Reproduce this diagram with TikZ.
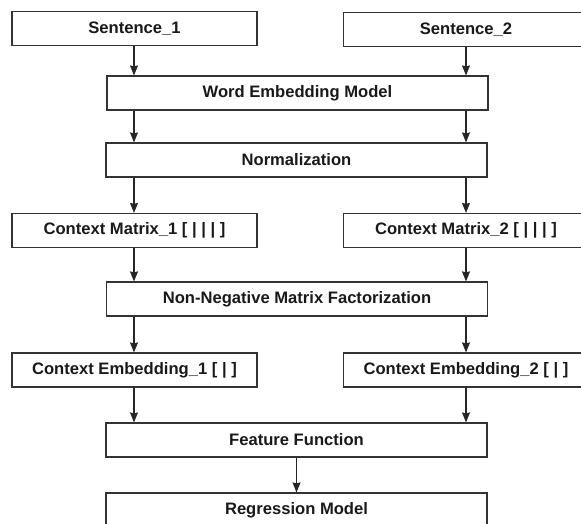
\documentclass[tikz,border=0pt]{standalone}
\usepackage{fontspec}
\setmainfont{Liberation Sans}
\usetikzlibrary{positioning,calc,arrows.meta}

\begin{document}
\begin{tikzpicture}[x=1pt,y=-1pt]
    \tikzstyle{every node}=[font=\fontsize{16.6}{20}\selectfont\bfseries]
    \tikzstyle{box}=[draw=black!80,line width=1.2,rectangle,minimum height=34,inner sep=0,text=black!90]
    \tikzstyle{side}=[box,minimum width=245]
    \tikzstyle{wide}=[box,minimum width=381]
    \tikzstyle{flow}=[draw=black!85,line width=1.1,-{Stealth[length=10,width=8,inset=1]}]
    {
        \clip (0,0) rectangle (581,523);
        \useasboundingbox (0,0) rectangle (581,523);

        % two input columns and the shared stages between them
        \node[side] (sent1) at (134.5, 28.5) {Sentence\_1};
        \node[side] (sent2) at (466, 29.5) {Sentence\_2};
        \node[wide] (wem) at (297.5, 93) {Word Embedding Model};
        \node[wide] (norm) at (296.5, 160) {Normalization};
        \node[side] (cm1) at (134.5, 230.5) {Context Matrix\_1 [ | | | ]};
        \node[side] (cm2) at (466, 230.5) {Context Matrix\_2 [ | | | ]};
        \node[wide] (nmf) at (297, 299) {Non-Negative Matrix Factorization};
        \node[side] (ce1) at (134.5, 370) {Context Embedding\_1 [ | ]};
        \node[side] (ce2) at (466, 370) {Context Embedding\_2 [ | ]};
        \node[wide] (feat) at (296.5, 440) {Feature Function};
        \node[wide] (regr) at (296.5, 510) {Regression Model};

        \coordinate (lx) at (134, 0);
        \coordinate (rx) at (466, 0);

        \draw[flow] (sent1.south -| lx) -- (wem.north -| lx);
        \draw[flow] (sent2.south -| rx) -- (wem.north -| rx);
        \draw[flow] (wem.south -| lx) -- (norm.north -| lx);
        \draw[flow] (wem.south -| rx) -- (norm.north -| rx);
        \draw[flow] (norm.south -| lx) -- (cm1.north -| lx);
        \draw[flow] (norm.south -| rx) -- (cm2.north -| rx);
        \draw[flow] (cm1.south -| lx) -- (nmf.north -| lx);
        \draw[flow] (cm2.south -| rx) -- (nmf.north -| rx);
        \draw[flow] (nmf.south -| lx) -- (ce1.north -| lx);
        \draw[flow] (nmf.south -| rx) -- (ce2.north -| rx);
        \draw[flow] (ce1.south -| lx) -- (feat.north -| lx);
        \draw[flow] (ce2.south -| rx) -- (feat.north -| rx);
        \draw[flow] (feat) -- (regr);
    }
\end{tikzpicture}
\end{document}
